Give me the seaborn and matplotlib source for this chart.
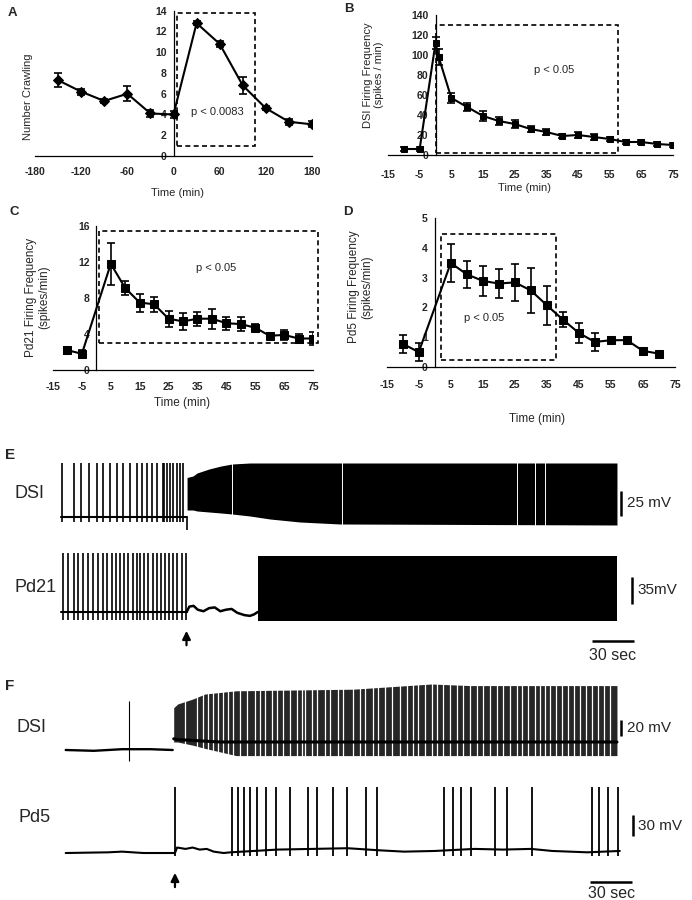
import matplotlib
matplotlib.use("Agg")
import matplotlib.pyplot as plt
import seaborn as sns
from matplotlib.patches import Rectangle

sns.set_style("white")
plt.rcParams["font.family"] = ["Liberation Sans", "DejaVu Sans"]

W, H = 692, 900

# ---- A: number crawling vs time
a_time = [-150, -120, -90, -60, -30, 0, 30, 60, 90, 120, 150, 180]
a_crawl = [7.3, 6.2, 5.3, 6.0, 4.1, 4.0, 12.8, 10.8, 6.8, 4.6, 3.3, 3.05]
a_err = [0.65, 0.3, 0.2, 0.7, 0.35, 0.3, 0.2, 0.3, 0.8, 0.2, 0.3, 0.3]

# ---- B: DSI firing frequency
b_time = [-10, -5, 0, 1, 5, 10, 15, 20, 25, 30, 35, 40, 45, 50, 55, 60, 65, 70, 75]
b_freq = [6, 6, 112, 98, 57, 48, 39, 34, 31, 26, 23, 19, 20, 18, 16, 13, 13, 11, 10]
b_err = [2, 2, 6, 8, 5, 4, 5, 4, 4, 3, 3, 2, 3, 3, 2, 2, 2, 2, 2]

# ---- C: Pd21 firing frequency
c_time = [-10, -5, 5, 10, 15, 20, 25, 30, 35, 40, 45, 50, 55, 60, 65, 70, 75]
c_freq = [2.2, 1.8, 11.8, 9.1, 7.5, 7.3, 5.7, 5.4, 5.7, 5.7, 5.2, 5.1, 4.7, 3.8, 3.9, 3.5, 3.5]
c_err = [0.4, 0.4, 2.3, 0.8, 1.0, 0.8, 0.9, 0.9, 0.8, 1.1, 0.7, 0.8, 0.4, 0.3, 0.6, 0.5, 0.7]

# ---- D: Pd5 firing frequency
d_time = [-10, -5, 5, 10, 15, 20, 25, 30, 35, 40, 45, 50, 55, 60, 65, 70]
d_freq = [0.78, 0.5, 3.49, 3.11, 2.89, 2.8, 2.84, 2.57, 2.07, 1.59, 1.14, 0.84, 0.9, 0.9, 0.54, 0.45]
d_err = [0.3, 0.3, 0.65, 0.45, 0.5, 0.5, 0.62, 0.75, 0.65, 0.25, 0.33, 0.3, 0.1, 0.05, 0.05, 0.05]

# ---- E: intracellular traces (time in s, voltage in mV rel. to rest)
e_stim = 89.1
e_dsi_spikes = [0.5, 9.2, 14.2, 20.1, 25.8, 30, 34.8, 39.5, 43.8, 48.9, 53.7, 57.2, 60.8,
                64.3, 67.9, 72.1, 73.3, 75, 77.3, 79.7, 82, 84.4, 86.7]
e_dsi_peak = 54
e_dsi_block_t = [89.4, 93.6, 96.5, 105, 113.5, 121.3, 134, 148.2, 169.5, 197.9, 394.3]
e_dsi_block_top = [39.5, 41, 44, 48, 51, 53, 54, 54, 54, 54, 54]
e_dsi_block_bot = [7, 7, 6, 5, 4, 3, 1, -2, -5, -7, -8]
e_dsi_gaps = [121, 199.6, 323.2, 336.2, 343.1]

e_pd21_spikes = [1.6, 5.2, 9.2, 12.3, 15.8, 19.4, 22.9, 26.5, 30, 32.8, 36, 39, 41.8, 44.7,
                 47.7, 50.9, 53.7, 56, 58.9, 61.9, 65, 67.9, 70.7, 73.8, 76.8, 79.6, 82.5,
                 85.6, 88.7]
e_pd21_peak = 76.5
e_pd21_wave_t = [89.1, 91, 94, 97, 101, 105, 109, 113, 117, 121, 125, 130, 134, 137, 139.5]
e_pd21_wave_v = [0, 7, 8, 3, 1, 5, 6, 1, 3, 4, -1, -4, -5, -3, 0]
e_pd21_block_t = [139.5, 394.5]
e_pd21_block_top = [73, 73]
e_pd21_block_bot = [-12, -12]

# ---- F: intracellular traces
f_stim = 77.5
f_dsi_base_t = [0, 20, 40, 60, 75.9]
f_dsi_base_v = [0, -1, 1, 1, 0]
f_dsi_small_t = 44.9
f_dsi_block_t = [76.6, 79.4, 90.3, 98.8, 109.9, 120.8, 203.8, 259.5, 287.2, 342.6, 391]
f_dsi_block_top = [52.8, 57.5, 63.8, 70, 72, 74, 76, 82.5, 80.5, 80.5, 80.5]
f_dsi_block_bot = [10, 10, 6, 2, -2.5, -7, -7, -7, -7, -7, -7]
f_dsi_band = [14, 13, 12, 11, 10, 10, 10, 10, 10, 10, 10]
f_dsi_gaps = [84.6, 92.9, 97.6, 101.1, 104.7, 108.2, 111.8, 115.3, 118.9, 123.6, 128.4,
              134.3, 137.8, 141.3, 146.1, 149.6, 154.3, 159.1, 163.8, 167.4, 169.7, 174.5,
              178, 183.9, 187.4, 193.3, 196.9, 204, 208.7, 212.3, 218.2, 221.7, 226.5,
              231.2, 237.1, 241.8, 246.5, 250.1, 254.8, 259.6, 263.1, 267.8, 272.6, 277.3,
              282, 286.7, 291.5, 296.2, 300.9, 305.7, 310.4, 315.1, 319.9, 323.4, 328.1,
              332.8, 336.4, 339.9, 343.5, 347.7, 352, 356.2, 360.5, 364.7, 369, 373.2,
              377.5, 381.7, 386]

f_pd5_spikes = [77.5, 117.7, 122.4, 126.5, 130.7, 135.5, 141.8, 149.1, 159.1, 172.1, 178.4,
                189.4, 199.3, 213, 221, 268.3, 274.5, 280.1, 287.2, 304.5, 313.2, 330.5,
                373, 378.6, 384.7, 391.9]
f_pd5_peak = 96.6
f_pd5_base_t = [0, 30, 40, 55, 77.5, 79, 85, 90, 95, 100, 105, 112, 117, 150, 200, 222,
                240, 262, 290, 310, 330, 345, 370, 393]
f_pd5_base_v = [0, 1, 2, 0, 0, 8, 6, 8, 5, 6, 2, 0, 1, 5, 7, 4, 2, 3, 6, 5, 6, 3, 1, 3]

fig = plt.figure(figsize=(W / 100, H / 100), dpi=100)


def px_axes(x0, y0, x1, y1):
    # box in pixels, origin top-left
    return fig.add_axes([x0 / W, 1 - y1 / H, (x1 - x0) / W, (y1 - y0) / H])


def stats_panel(ax, t, v, err, marker, ms, xlim, ylim, xticks, yticks, xpad):
    sns.lineplot(x=t, y=v, ax=ax, color="k", lw=1.5, marker=marker, markersize=ms,
                 markeredgecolor="k", errorbar=None)
    ax.errorbar(t, v, yerr=err, fmt="none", ecolor="k", elinewidth=1.2, capsize=3, capthick=1.2)
    ax.set_xlim(xlim)
    ax.set_ylim(ylim)
    ax.spines["left"].set_position(("data", 0))
    ax.spines["top"].set_visible(False)
    ax.spines["right"].set_visible(False)
    for s in ["left", "bottom"]:
        ax.spines[s].set_color("k")
        ax.spines[s].set_linewidth(0.9)
    ax.set_xticks(xticks, [str(x) for x in xticks], fontweight="bold", fontsize=7.5)
    ax.set_yticks(yticks, [str(y) for y in yticks], fontweight="bold", fontsize=7.5)
    ax.tick_params(axis="x", direction="inout", length=4, width=0.8, pad=xpad)
    ax.tick_params(axis="y", direction="inout", length=4, width=0.8, pad=3)
    ax.set_facecolor("none")


def dashed_box(ax, x0, x1, y0, y1):
    ax.add_patch(Rectangle((x0, y0), x1 - x0, y1 - y0, fill=False, ls=(0, (3, 2)),
                           lw=1.2, ec="k", clip_on=False))


# A
ax = px_axes(35, 10.7, 312, 156)
stats_panel(ax, a_time, a_crawl, a_err, "D", 5, (-180, 180), (0, 14),
            list(range(-180, 181, 60)), list(range(0, 15, 2)), 6)
dashed_box(ax, 4.6, 106, 1.0, 13.8)
ax.text(56.5, 4.27, "p < 0.0083", ha="center", va="center", fontsize=8)
ax.set_ylabel("Number Crawling", fontsize=8)
ax.yaxis.set_label_coords(-0.007, 0.406)
ax.set_xlabel("Time (min)", fontsize=8)
ax.xaxis.set_label_coords(0.513, -0.22)

# B
ax = px_axes(388, 15, 673, 155)
stats_panel(ax, b_time, b_freq, b_err, "s", 4.8, (-15, 75), (0, 140),
            list(range(-15, 76, 10)), list(range(0, 141, 20)), 9)
dashed_box(ax, 0, 57.5, 2, 130)
ax.text(37.4, 85, "p < 0.05", ha="center", va="center", fontsize=8)
ax.set_ylabel("DSI Firing Frequency\n(spikes / min)", fontsize=8, linespacing=1.1)
ax.yaxis.set_label_coords(-0.014, 0.571)
ax.set_xlabel("Time (min)", fontsize=8)
ax.xaxis.set_label_coords(0.48, -0.2)

# C
ax = px_axes(53, 226, 313, 370)
stats_panel(ax, c_time, c_freq, c_err, "s", 5.5, (-15, 75), (0, 16),
            list(range(-15, 76, 10)), [0, 4, 8, 12, 16], 7)
dashed_box(ax, 1, 76.7, 3, 15.5)
ax.text(41.4, 11.3, "p < 0.05", ha="center", va="center", fontsize=8)
ax.set_ylabel("Pd21 Firing Frequency\n(spikes/min)", fontsize=8.5, linespacing=1.1)
ax.yaxis.set_label_coords(-0.012, 0.507)
ax.set_xlabel("Time (min)", fontsize=8.5)
ax.xaxis.set_label_coords(0.496, -0.1875)

# D
ax = px_axes(386.7, 218, 675, 367)
stats_panel(ax, d_time, d_freq, d_err, "s", 5.5, (-15, 75), (0, 5),
            list(range(-15, 76, 10)), [0, 1, 2, 3, 4, 5], 7)
dashed_box(ax, 2, 37.8, 0.22, 4.45)
ax.text(15.4, 1.64, "p < 0.05", ha="center", va="center", fontsize=8)
ax.set_ylabel("Pd5 Firing Frequency\n(spikes/min)", fontsize=8.5, linespacing=1.1)
ax.yaxis.set_label_coords(-0.048, 0.537)
ax.set_xlabel("Time (min)", fontsize=8.5)
ax.xaxis.set_label_coords(0.521, -0.309)

# panel letters
for lab, x, y in [("A", 8, 13), ("B", 344, 9), ("C", 10, 212), ("D", 343, 212),
                  ("E", 5, 455), ("F", 5, 686)]:
    fig.text(x / W, 1 - y / H, lab, fontsize=11 if lab in "EF" else 9.5,
             fontweight="bold", ha="left", va="center")

e_xlim = (-0.709, 446.1)
f_xlim = (-4.04, 442.8)


def trace_axes(y0, y1, xlim, ylim):
    ax = px_axes(60, y0, 690, y1)
    ax.set_xlim(xlim)
    ax.set_ylim(ylim)
    ax.axis("off")
    return ax


def scale_v(ax, t, v0, size, label):
    ax.plot([t, t], [v0, v0 + size], color="k", lw=1.8, clip_on=False, solid_capstyle="butt")
    ax.text(t + 4, v0 + size / 2, label, fontsize=11, ha="left", va="center")


def scale_t(ax, t0, v, size, v_text):
    ax.plot([t0, t0 + size], [v, v], color="k", lw=1.8, clip_on=False, solid_capstyle="butt")
    ax.text(t0 + size / 2, v_text, f"{size} sec", fontsize=11.5, ha="center", va="center")


def stim_arrow(ax, t, v_tip, v_tail):
    ax.annotate("", xy=(t, v_tip), xytext=(t, v_tail),
                arrowprops=dict(arrowstyle="-|>", color="k", lw=1.6, mutation_scale=12))


# E DSI
ax = trace_axes(450, 545, e_xlim, (-28, 67))
ax.plot([0, e_stim], [0, 0], color="k", lw=1.5)
ax.vlines(e_dsi_spikes, -5, e_dsi_peak, color="k", lw=1.2)
ax.vlines(e_stim, -13, 0, color="k", lw=1.2)
ax.fill_between(e_dsi_block_t, e_dsi_block_bot, e_dsi_block_top, color="k", lw=0)
ax.vlines(e_dsi_gaps, -10, 56, color="white", lw=0.7)
scale_v(ax, 397.2, 1, 25, "25 mV")
fig.text(15 / W, 1 - 493 / H, "DSI", fontsize=13, ha="left", va="center")

# E Pd21
ax = trace_axes(545, 665, e_xlim, (-68.7, 86.9))
ax.plot([0, e_stim], [0, 0], color="k", lw=1.5)
ax.vlines(e_pd21_spikes, -10, e_pd21_peak, color="k", lw=1.2)
ax.plot(e_pd21_wave_t, e_pd21_wave_v, color="k", lw=1.8)
ax.fill_between(e_pd21_block_t, e_pd21_block_bot, e_pd21_block_top, color="k", lw=0)
scale_v(ax, 404.7, 10.6, 35, "35mV")
stim_arrow(ax, 89.0, -20.8, -46.7)
scale_t(ax, 376.4, -37.6, 30, -55.8)
fig.text(14 / W, 1 - 588 / H, "Pd21", fontsize=13, ha="left", va="center")

# F DSI
ax = trace_axes(675, 775, f_xlim, (-31.25, 93.75))
ax.plot(f_dsi_base_t, f_dsi_base_v, color="k", lw=1.7)
ax.vlines(f_dsi_small_t, -14, 61, color="k", lw=0.8)
ax.fill_between(f_dsi_block_t, f_dsi_block_bot, f_dsi_block_top, color="#262626", lw=0)
ax.vlines(f_dsi_gaps, -9, 90, color="white", lw=0.9)
ax.plot(f_dsi_block_t, f_dsi_band, color="k", lw=2.2)
scale_v(ax, 393.8, 17.75, 20, "20 mV")
fig.text(17 / W, 1 - 727 / H, "DSI", fontsize=13, ha="left", va="center")

# F Pd5
ax = trace_axes(775, 900, f_xlim, (-68.8, 114.2))
ax.plot(f_pd5_base_t, f_pd5_base_v, color="k", lw=1.5)
ax.vlines(f_pd5_spikes, -4, f_pd5_peak, color="k", lw=1.3)
scale_v(ax, 402.1, 25.2, 30, "30 mV")
stim_arrow(ax, f_stim, -25, -54)
scale_t(ax, 372, -42.2, 30, -59)
fig.text(18 / W, 1 - 818 / H, "Pd5", fontsize=13, ha="left", va="center")

fig.savefig("out.png", dpi=100)
